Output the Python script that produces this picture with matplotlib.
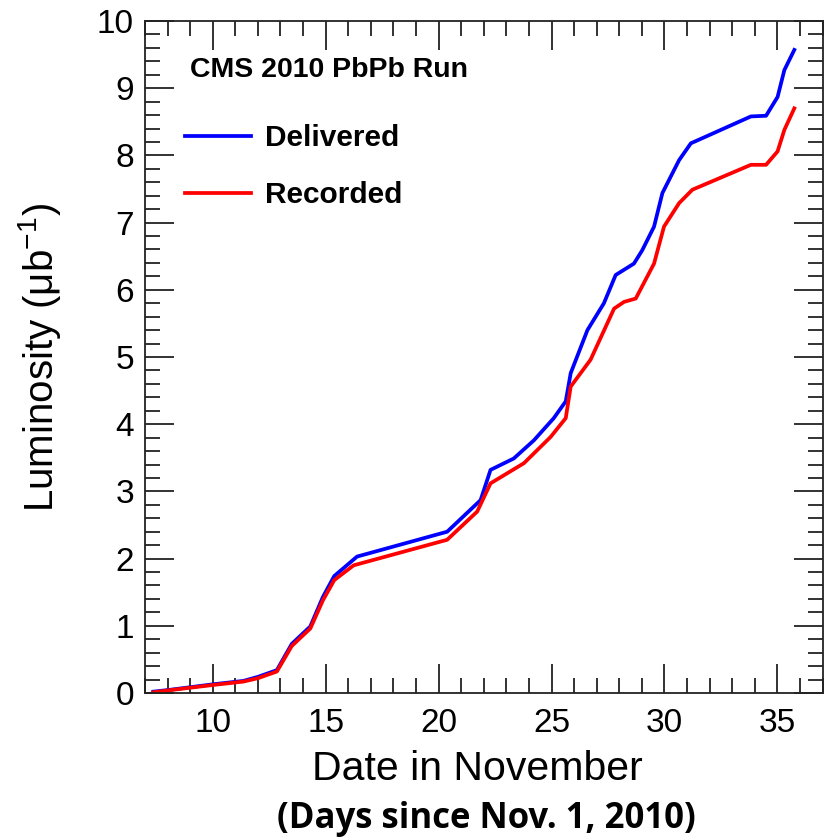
import matplotlib
matplotlib.use("Agg")
import matplotlib.pyplot as plt
from matplotlib.ticker import MultipleLocator

# cumulative integrated luminosity, read by day of November 2010
day_delivered = [7.37, 8.05, 10.03, 11.36, 12.0, 12.84, 13.5, 14.32, 14.88, 15.38,
                 16.39, 20.38, 21.86, 22.3, 23.33, 24.22, 25.1, 25.63, 25.85, 26.59,
                 27.32, 27.84, 28.65, 29.02, 29.54, 29.91, 30.65, 31.17, 33.83, 34.5,
                 35.01, 35.31, 35.75]
lumi_delivered = [0.02, 0.045, 0.13, 0.18, 0.24, 0.34, 0.73, 0.99, 1.43, 1.74,
                  2.03, 2.40, 2.87, 3.32, 3.49, 3.76, 4.09, 4.34, 4.76, 5.40,
                  5.80, 6.22, 6.39, 6.59, 6.94, 7.44, 7.93, 8.18, 8.58, 8.59,
                  8.87, 9.27, 9.57]

day_recorded = [7.37, 8.05, 10.03, 11.36, 12.0, 12.84, 13.5, 14.32, 14.88, 15.38,
                16.24, 20.38, 21.71, 22.3, 23.78, 24.96, 25.63, 25.85, 26.73, 27.77,
                28.21, 28.73, 29.54, 29.98, 30.65, 31.24, 33.83, 34.5, 35.01, 35.31,
                35.75]
lumi_recorded = [0.01, 0.04, 0.12, 0.17, 0.22, 0.32, 0.70, 0.96, 1.38, 1.68,
                 1.90, 2.28, 2.70, 3.12, 3.42, 3.81, 4.09, 4.56, 4.96, 5.72,
                 5.82, 5.87, 6.39, 6.94, 7.29, 7.49, 7.86, 7.86, 8.06, 8.38,
                 8.70]

plt.rcParams["font.family"] = ["Liberation Sans", "DejaVu Sans"]
plt.rcParams["font.stretch"] = "normal"
plt.rcParams["mathtext.fontset"] = "custom"
plt.rcParams["mathtext.rm"] = "Liberation Sans"

fig = plt.figure(figsize=(8.27, 8.40), dpi=100)
ax = fig.add_axes([0.1753, 0.175, 0.8193, 0.800])

ax.plot(day_delivered, lumi_delivered, color="#0000ff", lw=2.7, label="Delivered")
ax.plot(day_recorded, lumi_recorded, color="#ff0000", lw=2.7, label="Recorded")

ax.set_xlim(7, 37)
ax.set_ylim(0, 10)
ax.xaxis.set_major_locator(MultipleLocator(5))
ax.xaxis.set_minor_locator(MultipleLocator(1))
ax.yaxis.set_major_locator(MultipleLocator(1))
ax.yaxis.set_minor_locator(MultipleLocator(0.2))
ax.tick_params(which="both", direction="in", top=True, right=True,
               width=1.3, color="#222222", labelsize=24)
ax.tick_params(which="major", length=21)
ax.tick_params(which="minor", length=11)
ax.tick_params(axis="y", pad=8)
ax.tick_params(axis="x", pad=11)
for sp in ax.spines.values():
    sp.set_linewidth(1.3)
    sp.set_color("#222222")

ax.set_ylabel(r"Luminosity ($\mathrm{\mu b^{-1}}$)", fontsize=29)
ax.yaxis.set_label_coords(-0.121, 0.5)
ax.set_xlabel("Date in November", fontsize=29.5, labelpad=8)
ax.xaxis.set_label_coords(0.491, -0.085)

ax.text(0.066, 0.917, "CMS 2010 PbPb Run", transform=ax.transAxes,
        fontsize=20.5, fontweight="bold", fontstretch="normal", va="baseline")
ax.legend(loc="upper left", bbox_to_anchor=(0.059, 0.846), frameon=False,
          prop={"size": 21.5, "weight": "bold", "stretch": "normal"},
          handlelength=2.2, handletextpad=0.47, labelspacing=0.96,
          borderpad=0, borderaxespad=0)

fig.text(0.588, 0.0145, "(Days since Nov. 1, 2010)", fontsize=25,
         fontweight="bold", family=["Open Sans", "DejaVu Sans"],
         ha="center", va="baseline")

fig.savefig("out.png", dpi=100)
